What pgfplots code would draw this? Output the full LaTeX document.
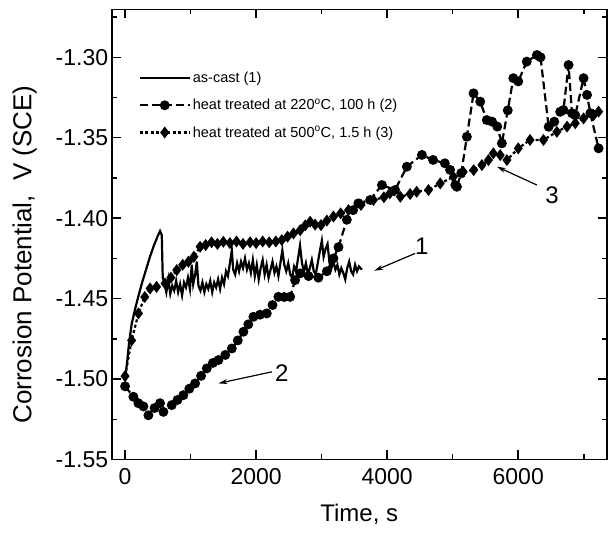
\documentclass[border=0pt]{standalone}
\usepackage{fontspec}
\setmainfont{Liberation Sans}
\usepackage{pgfplots}
\pgfplotsset{compat=1.18}
\usetikzlibrary{arrows.meta}

% as-cast (1)
\pgfplotstableread{
t v
0 -1.500
30 -1.490
60 -1.478
100 -1.466
150 -1.457
200 -1.449
260 -1.440
320 -1.432
380 -1.424
440 -1.417
500 -1.411
534 -1.408
560 -1.4105
575 -1.437
600 -1.440
630 -1.446
660 -1.438
690 -1.447
720 -1.442
750 -1.445
780 -1.439
810 -1.446
840 -1.441
870 -1.448
900 -1.440
930 -1.443
960 -1.437
990 -1.444
1018 -1.429
1040 -1.441
1070 -1.435
1095 -1.427
1120 -1.442
1150 -1.445
1180 -1.440
1210 -1.446
1240 -1.441
1270 -1.444
1300 -1.439
1330 -1.446
1360 -1.440
1390 -1.443
1420 -1.438
1450 -1.444
1480 -1.437
1510 -1.441
1540 -1.433
1570 -1.436
1600 -1.428
1629 -1.420
1650 -1.432
1680 -1.435
1710 -1.428
1740 -1.433
1770 -1.427
1800 -1.431
1830 -1.425
1860 -1.432
1890 -1.428
1920 -1.434
1950 -1.426
1980 -1.436
2010 -1.429
2040 -1.438
2070 -1.431
2100 -1.426
2130 -1.435
2160 -1.429
2190 -1.437
2220 -1.432
2250 -1.427
2280 -1.434
2310 -1.430
2340 -1.436
2370 -1.428
2400 -1.420
2430 -1.429
2460 -1.433
2490 -1.428
2520 -1.435
2550 -1.437
2580 -1.430
2610 -1.433
2640 -1.425
2670 -1.417
2700 -1.428
2730 -1.433
2760 -1.428
2790 -1.435
2820 -1.431
2850 -1.426
2880 -1.433
2910 -1.435
2940 -1.428
2970 -1.421
3003 -1.414
3030 -1.424
3060 -1.419
3090 -1.416
3120 -1.428
3150 -1.431
3180 -1.427
3210 -1.432
3240 -1.429
3270 -1.435
3300 -1.431
3330 -1.434
3360 -1.438
3390 -1.431
3420 -1.427
3450 -1.433
3480 -1.435
3510 -1.429
3540 -1.433
3570 -1.430
3614 -1.432
}\castdata

% heat treated at 220 C, 100 h (2)
\pgfplotstableread{
t v
0 -1.5045
127 -1.511
203 -1.515
280 -1.517
356 -1.5225
450 -1.518
534 -1.515
585 -1.5204
712 -1.5162
800 -1.513
890 -1.510
980 -1.506
1069 -1.5027
1160 -1.498
1247 -1.4934
1340 -1.490
1424 -1.4882
1530 -1.485
1629 -1.481
1720 -1.476
1806 -1.4706
1880 -1.466
1959 -1.4613
2060 -1.460
2163 -1.4592
2250 -1.454
2340 -1.4489
2430 -1.449
2519 -1.4489
2595 -1.4385
2672 -1.4343
2800 -1.436
2950 -1.437
3080 -1.433
3180 -1.425
3257 -1.418
3384 -1.401
3480 -1.395
3560 -1.3908
3740 -1.3887
3920 -1.3794
4120 -1.3825
4300 -1.368
4530 -1.3607
4700 -1.3638
4880 -1.3659
4960 -1.370
5040 -1.3794
5064 -1.3805
5130 -1.372
5216 -1.3494
5318 -1.3224
5420 -1.3276
5520 -1.339
5600 -1.340
5680 -1.3431
5750 -1.3535
5840 -1.333
5925 -1.313
6000 -1.315
6130 -1.3027
6285 -1.2986
6340 -1.300
6464 -1.3432
6550 -1.340
6640 -1.3339
6690 -1.3328
6768 -1.3048
6820 -1.3348
6870 -1.336
6997 -1.313
7050 -1.3234
7100 -1.3348
7226 -1.3566
}\hta

% heat treated at 500 C, 1.5 h (3)
\pgfplotstableread{
t v
0 -1.4982
100 -1.476
204 -1.4592
300 -1.449
382 -1.4437
480 -1.4427
611 -1.4406
700 -1.437
789 -1.4323
880 -1.429
966 -1.4271
1050 -1.424
1145 -1.4178
1230 -1.4167
1320 -1.4150
1410 -1.4160
1500 -1.4147
1600 -1.4155
1700 -1.4145
1800 -1.4160
1908 -1.4150
2000 -1.4155
2100 -1.4145
2200 -1.4150
2300 -1.4145
2392 -1.4136
2480 -1.4115
2570 -1.4095
2672 -1.4075
2750 -1.4045
2824 -1.4022
2900 -1.4040
2990 -1.4043
3080 -1.4015
3180 -1.399
3290 -1.397
3410 -1.395
3600 -1.3918
3790 -1.3887
3950 -1.3870
4040 -1.3846
4200 -1.3867
4350 -1.3850
4450 -1.3836
4630 -1.3825
4810 -1.3784
5010 -1.3743
5160 -1.3712
5320 -1.3701
5445 -1.367
5545 -1.3639
5620 -1.3597
5725 -1.3608
5827 -1.3639
6000 -1.3566
6180 -1.3514
6385 -1.3514
6590 -1.3463
6745 -1.3431
6870 -1.341
6997 -1.338
7150 -1.3359
7226 -1.3338
}\htb

\begin{document}
\begin{tikzpicture}
\begin{axis}[
  at={(0,0)}, anchor=south west,
  scale only axis, width=495pt, height=450pt,
  xmin=-204, xmax=7350, ymin=-1.55, ymax=-1.2703,
  xtick={0,2000,4000,6000}, minor xtick={1000,3000,5000,7000},
  ytick={-1.55,-1.50,-1.45,-1.40,-1.35,-1.30},
  minor ytick={-1.525,-1.475,-1.425,-1.375,-1.325,-1.275},
  scaled ticks=false,
  xticklabel style={/pgf/number format/1000 sep={}, yshift=-5pt},
  yticklabel style={/pgf/number format/.cd, fixed, fixed zerofill, precision=2},
  /pgf/number format/assume math mode=true,
  tick label style={font=\fontsize{23}{23}\selectfont},
  xlabel style={font=\fontsize{24}{24}\selectfont, yshift=-13pt},
  ylabel style={font=\fontsize{26}{26}\selectfont, yshift=12pt, xshift=-20pt},
  xlabel={Time, s},
  ylabel={Corrosion Potential,\ \ V (SCE)},
  axis line style={line width=1.8pt},
  every tick/.style={black, line width=1.5pt},
  major tick length=9pt, minor tick length=5pt,
  tick align=inside,
  legend style={draw=none, fill=none, at={(0.048,0.87)}, anchor=north west,
    font=\fontsize{14.5}{17}\selectfont, row sep=11pt},
  legend cell align=left,
  legend image code/.code={\draw[mark repeat=2,mark phase=2,#1]
    plot coordinates {(0pt,0pt) (25pt,0pt) (50pt,0pt)};},
]
\addplot[black, line width=2.2pt] table[x=t,y=v] {\castdata};
\addlegendentry{as-cast (1)}
\addplot[black, line width=2.2pt, dash pattern=on 8pt off 4pt,
  mark=*, mark size=3.8pt, mark options={solid}] table[x=t,y=v] {\hta};
\addlegendentry{heat treated at 220\textsuperscript{o}C, 100 h (2)}
\addplot[black, line width=2.2pt, dash pattern=on 3pt off 2.5pt,
  mark=diamond*, mark size=4.2pt, mark options={solid}] table[x=t,y=v] {\htb};
\addlegendentry{heat treated at 500\textsuperscript{o}C, 1.5 h (3)}

\node[font=\fontsize{24}{24}\selectfont] at (axis cs:4530,-1.4172) {1};
\draw[-{Stealth[length=9pt,width=5pt]}, line width=1.2pt]
  (axis cs:4427,-1.4219) -- (axis cs:3802,-1.4327);
\node[font=\fontsize{24}{24}\selectfont] at (axis cs:6514,-1.3856) {3};
\draw[-{Stealth[length=9pt,width=5pt]}, line width=1.2pt]
  (axis cs:6285,-1.3794) -- (axis cs:5675,-1.368);
\node[font=\fontsize{24}{24}\selectfont] at (axis cs:2392,-1.4965) {2};
\draw[-{Stealth[length=9pt,width=5pt]}, line width=1.2pt]
  (axis cs:2240,-1.4955) -- (axis cs:1424,-1.5027);
\end{axis}
\pgfresetboundingbox
\useasboundingbox (-111.7pt,-72.7pt) rectangle (496.3pt,459.5pt);
\end{tikzpicture}
\end{document}
